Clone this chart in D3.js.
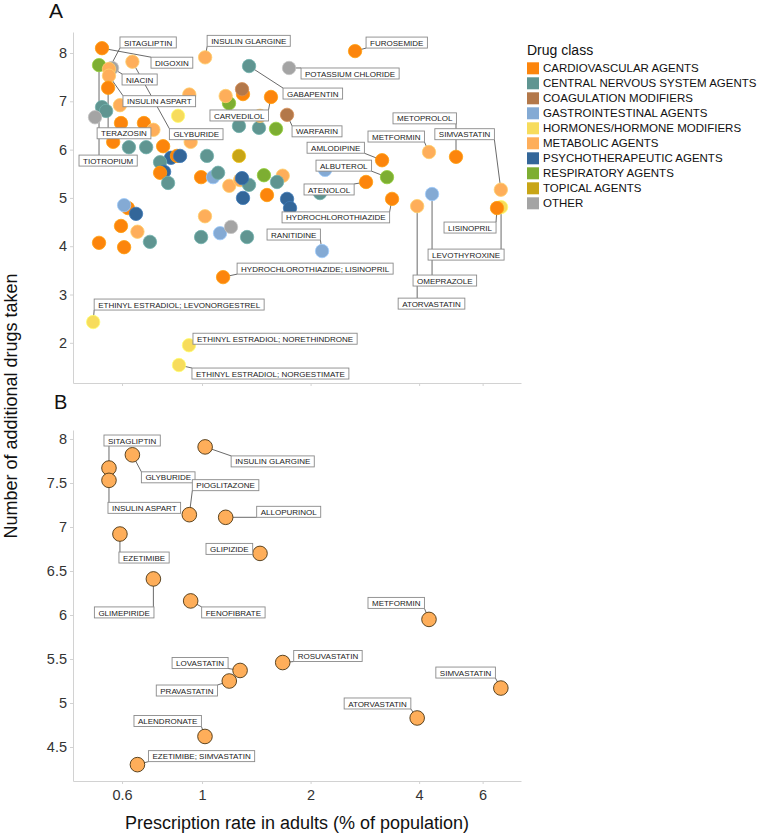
<!DOCTYPE html>
<html><head><meta charset="utf-8">
<script src="https://cdn.jsdelivr.net/npm/d3@7"></script>
<style>
body{margin:0;background:#fff;}
svg text{font-family:"Liberation Sans",Arial,Helvetica,sans-serif;}
</style>
</head><body>
<svg id="c" width="759" height="835"></svg>
<script>
// ---------------- DATA ----------------
const classes = ["CARDIOVASCULAR AGENTS","CENTRAL NERVOUS SYSTEM AGENTS","COAGULATION MODIFIERS",
  "GASTROINTESTINAL AGENTS","HORMONES/HORMONE MODIFIERS","METABOLIC AGENTS",
  "PSYCHOTHERAPEUTIC AGENTS","RESPIRATORY AGENTS","TOPICAL AGENTS","OTHER"];
const classColors = ["#FC850C","#5F9591","#B3784A","#84AAD4","#F7DC5C","#FEAE5A","#336699","#7DAE32","#C8A516","#A4A4A4"];

const drugA = [
 "DIGOXIN","GLYBURIDE","TIOTROPIUM","NIACIN","SITAGLIPTIN","INSULIN ASPART","TERAZOSIN","EZETIMIBE","","",
 "","","PIOGLITAZONE","","","GLIMEPIRIDE","","FENOFIBRATE","","",
 "","","","","","","","","","",
 "","","","PRAVASTATIN","LOVASTATIN","","","","ROSUVASTATIN","",
 "","","","","ALLOPURINOL","","","CARVEDILOL","GABAPENTIN","POTASSIUM CHLORIDE",
 "WARFARIN","INSULIN GLARGINE","FUROSEMIDE","AMLODIPINE","ALBUTEROL","ATENOLOL","","METFORMIN","METOPROLOL","SIMVASTATIN",
 "OMEPRAZOLE","HYDROCHLOROTHIAZIDE","ATORVASTATIN","LEVOTHYROXINE","LISINOPRIL","RANITIDINE","","","","",
 "","","","","EZETIMIBE; SIMVASTATIN","","","","ALENDRONATE","",
 "","","","HYDROCHLOROTHIAZIDE; LISINOPRIL","ETHINYL ESTRADIOL; LEVONORGESTREL","ETHINYL ESTRADIOL; NORETHINDRONE","ETHINYL ESTRADIOL; NORGESTIMATE","GLIPIZIDE",""
];
const classA = [
 0,5,7,9,5,5,0,5,1,1,
 9,4,5,0,0,5,0,5,1,1,
 0,1,8,6,0,6,1,6,0,1,
 0,3,1,5,5,1,6,7,5,1,
 1,1,7,7,5,0,2,0,1,9,
 2,5,0,0,7,0,3,5,0,5,
 3,0,5,4,0,3,6,6,0,6,
 0,3,6,0,5,0,0,1,5,1,
 3,9,1,0,4,4,4,5,1
];
const rateA = [
 0.528,0.641,0.518,0.563,0.552,0.552,0.549,0.592,0.528,0.542,
 0.505,0.858,0.922,0.596,0.690,0.733,0.567,0.930,0.627,0.700,
 0.780,1.032,1.266,0.820,0.852,0.869,0.765,0.785,0.765,0.805,
 0.994,1.073,1.108,1.19,1.275,1.350,1.291,1.485,1.674,1.614,
 1.266,1.439,1.604,1.188,1.163,1.299,1.291,1.553,1.350,1.743,
 1.721,1.02,2.657,3.157,3.258,2.850,2.194,4.26,5.062,6.74,
 4.344,3.365,3.95,6.75,6.578,2.152,1.721,1.754,1.514,1.299,
 0.623,0.608,0.656,0.596,0.662,0.518,0.608,0.717,1.019,0.994,
 1.122,1.203,1.333,1.144,0.499,0.920,0.863,1.448,2.124
];
const takenA = [
 8.10,7.82,7.75,7.69,7.67,7.53,7.28,6.92,6.88,6.80,
 6.67,6.70,7.14,6.55,6.55,6.41,6.16,6.16,6.05,6.05,
 6.07,5.87,5.87,5.83,5.87,5.87,5.74,5.54,5.52,5.31,
 5.43,5.43,5.52,5.25,5.37,5.27,5.41,5.47,5.46,5.33,
 6.49,6.45,6.43,6.96,7.11,7.15,7.25,7.09,7.73,7.69,
 6.72,7.91,8.04,5.78,5.43,5.33,5.58,5.95,5.85,5.17,
 5.08,4.98,4.83,4.81,4.79,3.90,4.98,4.79,5.06,5.00,
 4.79,4.85,4.67,4.42,4.30,4.07,3.98,4.09,4.62,4.19,
 4.27,4.40,4.19,3.36,2.43,1.95,1.54,6.70,5.10
];
const xTicks = [0.6, 1, 2, 4, 6];
const yTicksA = [2, 3, 4, 5, 6, 7, 8];
const yTicksB = [4.5, 5, 5.5, 6, 6.5, 7, 7.5, 8];

// ---------------- LAYOUT (label box offsets from point, px) ----------------
const labelOffA = {
 "SITAGLIPTIN":[11,-32],"DIGOXIN":[49,9],"INSULIN GLARGINE":[2,-22],"NIACIN":[10,6],
 "INSULIN ASPART":[14,20],"TERAZOSIN":[-11,40],"GLYBURIDE":[37,67],"TIOTROPIUM":[-20,90],
 "CARVEDILOL":[-61,13],"FUROSEMIDE":[11,-14],"POTASSIUM CHLORIDE":[12,0],"GABAPENTIN":[34,22],
 "WARFARIN":[5,11],"METOPROLOL":[-63,-44],"METFORMIN":[-61,-21],"SIMVASTATIN":[-66,-61],
 "AMLODIPINE":[-75,-18],"ALBUTEROL":[-71,-17],"ATENOLOL":[-62,2],"HYDROCHLOROTHIAZIDE":[-110,13],
 "RANITIDINE":[-55,-22],"HYDROCHLOROTHIAZIDE; LISINOPRIL":[14,-14],"LISINOPRIL":[-53,14],
 "LEVOTHYROXINE":[-73,42],"OMEPRAZOLE":[-19,81],"ATORVASTATIN":[-19,92],
 "ETHINYL ESTRADIOL; LEVONORGESTREL":[1,-23],"ETHINYL ESTRADIOL; NORETHINDRONE":[4,-12],
 "ETHINYL ESTRADIOL; NORGESTIMATE":[13,3]
};
const labelOffB = {
 "SITAGLIPTIN":[-5,-33],"GLYBURIDE":[9,17],"INSULIN GLARGINE":[26,9],"PIOGLITAZONE":[3,-35],
 "INSULIN ASPART":[-1,22],"ALLOPURINOL":[31,-11],"EZETIMIBE":[-1,18],"GLIPIZIDE":[-54,-10],
 "GLIMEPIRIDE":[-59,28],"FENOFIBRATE":[11,6],"METFORMIN":[-61,-22],"ROSUVASTATIN":[11,-12],
 "SIMVASTATIN":[-65,-21],"ATORVASTATIN":[-73,-20],"LOVASTATIN":[-68,-13],"PRAVASTATIN":[-73,4],
 "ALENDRONATE":[-71,-21],"EZETIMIBE; SIMVASTATIN":[11,-14]
};

// ---------------- DRAW ----------------
const FONT = '"Liberation Sans",Arial,Helvetica,sans-serif';
const svg = d3.select("#c");
const x = d3.scaleLog().domain([0.4387, 7.666]).range([73, 521]);
const yA = d3.scaleLinear().domain([1.168, 8.435]).range([383, 32]);
const yB = d3.scaleLinear().domain([4.114, 8.102]).range([781, 430]);

function drawAxes(y, ticks, bottom, showX) {
  const gy = svg.append("g").attr("transform", "translate(73,0)")
    .call(d3.axisLeft(y).tickValues(ticks).tickSize(3).tickSizeOuter(0).tickPadding(3).tickFormat(d3.format("~g")));
  const gx = svg.append("g").attr("transform", `translate(0,${bottom})`)
    .call(d3.axisBottom(x).tickValues(xTicks).tickSize(3).tickSizeOuter(0).tickPadding(6)
      .tickFormat(showX ? d3.format("~g") : () => ""));
  [gy, gx].forEach(g => {
    g.attr("font-family", FONT).attr("font-size", 14.5);
    g.select(".domain").attr("stroke", "#d2d2d2");
    g.selectAll(".tick line").attr("stroke", "#d2d2d2");
    g.selectAll(".tick text").attr("fill", "#333");
  });
}

function drawPanel(y, idx, offs, r, strokeFn, strokeW) {
  const lineG = svg.append("g"), ptG = svg.append("g"), labG = svg.append("g");
  ptG.selectAll("circle").data(idx).join("circle")
    .attr("cx", i => x(rateA[i])).attr("cy", i => y(takenA[i])).attr("r", r)
    .attr("fill", i => classColors[classA[i]])
    .attr("stroke", strokeFn).attr("stroke-width", strokeW);
  idx.forEach(i => {
    const o = offs[drugA[i]];
    if (!o) return;
    const px = x(rateA[i]), py = y(takenA[i]);
    const bx = px + o[0], by = py + o[1], h = 11;
    const t = labG.append("text").attr("x", bx + 4).attr("y", by + 8.6)
      .attr("font-size", 8).attr("fill", "#222").text(drugA[i]);
    const w = t.node().getComputedTextLength() + 8;
    labG.insert("rect", () => t.node()).attr("x", bx).attr("y", by).attr("width", w).attr("height", h)
      .attr("fill", "#fff").attr("stroke", "#8a8a8a").attr("stroke-width", 0.9);
    const cx = Math.max(bx, Math.min(px, bx + w)), cy = Math.max(by, Math.min(py, by + h));
    lineG.append("line").attr("x1", px).attr("y1", py).attr("x2", cx).attr("y2", cy)
      .attr("stroke", "#444").attr("stroke-width", 0.8);
  });
}

drawAxes(yA, yTicksA, 383, false);
drawAxes(yB, yTicksB, 781, true);

const idxAll = d3.range(drugA.length);
drawPanel(yA, idxAll, labelOffA, 6.7, i => d3.color(classColors[classA[i]]).brighter(0.5), 0.8);
const idxB = idxAll.filter(i => classA[i] === 5);
drawPanel(yB, idxB, labelOffB, 7.3, () => "#4a3412", 0.9);

// panel letters
svg.append("text").attr("x", 49).attr("y", 18).attr("font-size", 21).attr("fill", "#111").text("A");
svg.append("text").attr("x", 54).attr("y", 409).attr("font-size", 20).attr("fill", "#111").text("B");

// axis titles
svg.append("text").attr("transform", "translate(17,406) rotate(-90)").attr("text-anchor", "middle")
  .attr("font-size", 18).attr("fill", "#111").text("Number of additional drugs taken");
svg.append("text").attr("x", 297).attr("y", 829).attr("text-anchor", "middle")
  .attr("font-size", 18).attr("fill", "#111").text("Prescription rate in adults (% of population)");

// legend
const lg = svg.append("g").attr("transform", "translate(527,0)");
lg.append("text").attr("x", 0).attr("y", 55).attr("font-size", 14).attr("fill", "#111").text("Drug class");
classes.forEach((c, k) => {
  const cy = 68.3 + k * 15;
  lg.append("rect").attr("x", 0).attr("y", cy - 6).attr("width", 12).attr("height", 12).attr("fill", classColors[k]);
  lg.append("text").attr("x", 16).attr("y", cy + 4).attr("font-size", 11.5).attr("fill", "#111").text(c);
});
</script>
</body></html>
